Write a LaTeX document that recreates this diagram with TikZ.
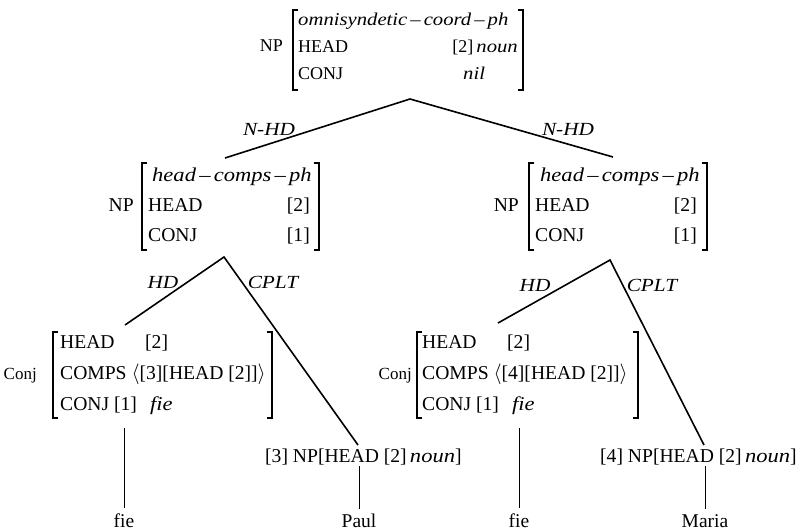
\documentclass[tikz,border=0pt]{standalone}
\usepackage{fontspec}
\setmainfont{Liberation Serif}
\newfontfamily\wit[FakeStretch=1.15,Ligatures=TeX]{Liberation Serif}
\newcommand{\wi}[1]{{\wit\itshape #1}}
\newcommand{\dsh}{\,\textendash\,}
\begin{document}
\begin{tikzpicture}[x=1pt,y=-1pt,
  txt/.style={inner sep=0pt, anchor=base west, font=\fontsize{19.6}{22}\selectfont},
  txte/.style={txt, anchor=base east},
  toptxt/.style={txt, font=\fontsize{18}{21}\selectfont},
  toptxte/.style={toptxt, anchor=base east},
  small/.style={txt, anchor=base east, font=\fontsize{17}{20}\selectfont},
  lab/.style={inner sep=0pt, anchor=base, font=\fontsize{18.5}{22}\selectfont\wit\itshape},
  word/.style={inner sep=0pt, anchor=base, font=\fontsize{19.5}{22}\selectfont},
  edge/.style={line width=1.6pt},
  stem/.style={line width=1pt},
  brk/.style={line width=1.1pt}]
\useasboundingbox (0,0) rectangle (802,531);
\fill[white] (0,0) rectangle (802,531);

% ---------- top AVM ----------
\node[toptxte] (npT) at (283,51) {NP};
\node[toptxt] (t1) at (298,25) {\wi{omnisyndetic\dsh coord\dsh ph}};
\node[toptxt] (t2) at (298,52) {HEAD};
\node[toptxte] (t2v) at (518,52) {[2]\,\wi{noun}};
\node[toptxt] (t3) at (298,79) {CONJ};
\node[toptxt] (t3v) at (463,79) {\wi{nil}};
\draw[brk] (298,10) -- (293,10) -- (293,90) -- (298,90);
\draw[brk] (518,10) -- (523,10) -- (523,90) -- (518,90);

% ---------- middle left AVM ----------
\node[txte] (npL) at (134,211) {NP};
\node[txt] (l1) at (152,181) {\wi{head\dsh comps\dsh ph}};
\node[txt] (l2) at (148,211) {HEAD};
\node[txte] (l2v) at (310,211) {[2]};
\node[txt] (l3) at (148,241) {CONJ};
\node[txte] (l3v) at (310,241) {[1]};
\draw[brk] (147,163) -- (142,163) -- (142,250) -- (147,250);
\draw[brk] (314,163) -- (319,163) -- (319,250) -- (314,250);

% ---------- middle right AVM ----------
\node[txte] (npR) at (519,211) {NP};
\node[txt] (r1) at (540,181) {\wi{head\dsh comps\dsh ph}};
\node[txt] (r2) at (535,211) {HEAD};
\node[txte] (r2v) at (697,211) {[2]};
\node[txt] (r3) at (535,241) {CONJ};
\node[txte] (r3v) at (697,241) {[1]};
\draw[brk] (534,163) -- (529,163) -- (529,250) -- (534,250);
\draw[brk] (702,163) -- (707,163) -- (707,250) -- (702,250);

% ---------- bottom left AVM ----------
\node[small] (cjL) at (37,379) {Conj};
\node[txt] (bl1) at (60,348) {HEAD};
\node[txt] (bl1v) at (145,348) {[2]};
\node[txt] (bl2) at (60,379) {COMPS $\langle$[3][HEAD [2]]$\rangle$};
\node[txt] (bl3) at (60,410) {CONJ [1]};
\node[txt] (bl3v) at (150,410) {\wi{fie}};
\draw[brk] (58,332) -- (53,332) -- (53,418) -- (58,418);
\draw[brk] (267,332) -- (272,332) -- (272,418) -- (267,418);

% ---------- bottom right AVM ----------
\node[small] (cjR) at (412,379) {Conj};
\node[txt] (br1) at (422,348) {HEAD};
\node[txt] (br1v) at (507,348) {[2]};
\node[txt] (br2) at (422,379) {COMPS $\langle$[4][HEAD [2]]$\rangle$};
\node[txt] (br3) at (422,410) {CONJ [1]};
\node[txt] (br3v) at (512,410) {\wi{fie}};
\draw[brk] (422,332) -- (417,332) -- (417,418) -- (422,418);
\draw[brk] (633,332) -- (638,332) -- (638,418) -- (633,418);

% ---------- bottom NP nodes ----------
\node[txt] (np3) at (265,462) {[3] NP[HEAD [2]\,\wi{noun}]};
\node[txt] (np4) at (600,462) {[4] NP[HEAD [2]\,\wi{noun}]};

% ---------- words ----------
\node[word] (w1) at (124,527) {fie};
\node[word] (w2) at (359,527) {Paul};
\node[word] (w3) at (519,527) {fie};
\node[word] (w4) at (705,527) {Maria};

% ---------- tree coordinates ----------
\coordinate (aT) at (410,99);
\coordinate (eTL) at (225,158);
\coordinate (eTR) at (613,157);
\coordinate (aL) at (224,257);
\coordinate (hdL) at (125,325);
\coordinate (cpL) at (358,445);
\coordinate (aR) at (610,260);
\coordinate (hdR) at (498,323);
\coordinate (cpR) at (704,445);
\coordinate (f1t) at (124,428);
\coordinate (f1b) at (124,508);
\coordinate (p1t) at (359,466);
\coordinate (p1b) at (359,509);
\coordinate (f2t) at (519,428);
\coordinate (f2b) at (519,508);
\coordinate (m1t) at (705,466);
\coordinate (m1b) at (705,509);

\draw[edge] (eTL) -- (aT) -- (eTR);
\draw[edge] (hdL) -- (aL) -- (cpL);
\draw[edge] (hdR) -- (aR) -- (cpR);
\draw[stem] (f1t) -- (f1b);
\draw[stem] (p1t) -- (p1b);
\draw[stem] (f2t) -- (f2b);
\draw[stem] (m1t) -- (m1b);

% ---------- edge labels ----------
\node[lab] (nhdL) at (269,135) {N-HD};
\node[lab] (nhdR) at (568,135) {N-HD};
\node[lab] (hdLl) at (163,288) {HD};
\node[lab] (cpLl) at (273,288) {CPLT};
\node[lab] (hdRl) at (535,291) {HD};
\node[lab] (cpRl) at (652,291) {CPLT};
\end{tikzpicture}
\end{document}
